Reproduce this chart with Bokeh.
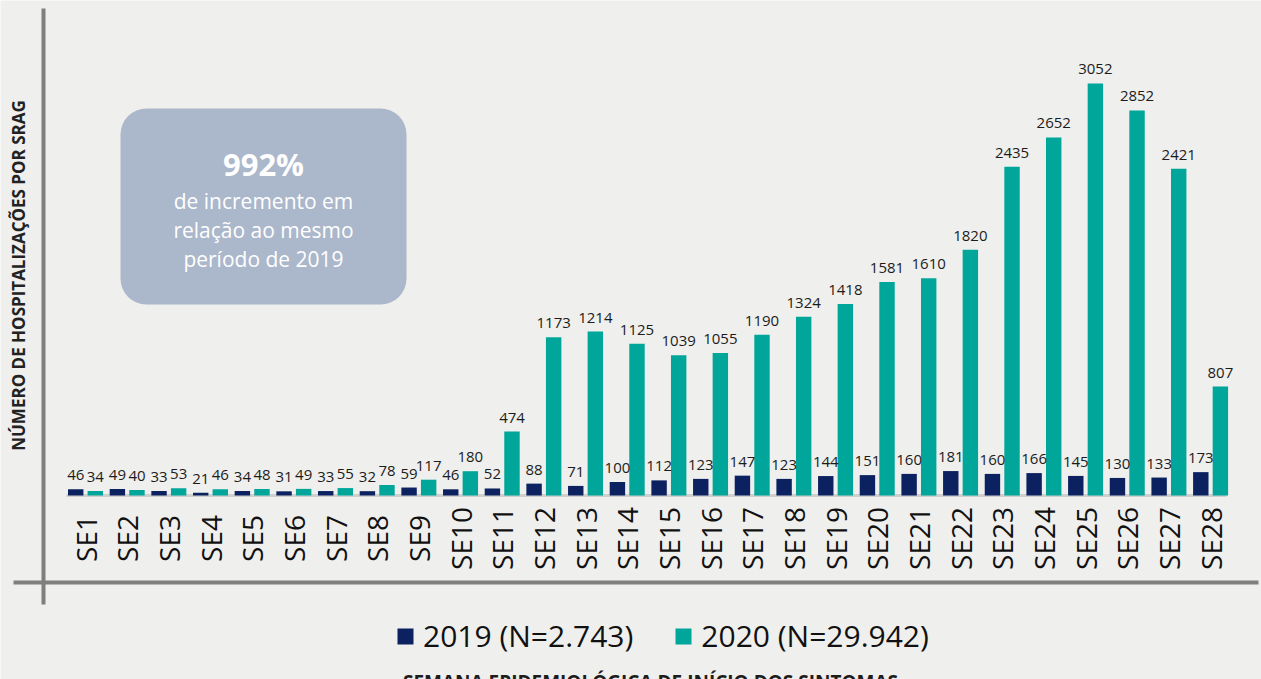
import math
from bokeh.plotting import figure
from bokeh.models import Range1d, Label, BoxAnnotation, Legend, LegendItem
from bokeh.core.properties import value
from bokeh.embed import file_html
from bokeh.resources import INLINE

# ---------------- data ----------------
weeks = ["SE%d" % i for i in range(1, 29)]
hosp_2019 = [46, 49, 33, 21, 34, 31, 33, 32, 59, 46, 52, 88, 71, 100, 112, 123, 147, 123,
             144, 151, 160, 181, 160, 166, 145, 130, 133, 173]
hosp_2020 = [34, 40, 53, 46, 48, 49, 55, 78, 117, 180, 474, 1173, 1214, 1125, 1039, 1055,
             1190, 1324, 1418, 1581, 1610, 1820, 2435, 2652, 3052, 2852, 2421, 807]
legend_labels = ["2019 (N=2.743)", "2020 (N=29.942)"]
y_title = "NÚMERO DE HOSPITALIZAÇÕES POR SRAG"
x_title = "SEMANA EPIDEMIOLÓGICA DE INÍCIO DOS SINTOMAS"
box_lines = ["992%", "de incremento em", "relação ao mesmo", "período de 2019"]

# ---------------- layout ----------------
W, H = 1261, 679
XS = 41.67            # px per category
FIRST_CX = 85         # canvas x of first category
BASE_CY = 495         # canvas y of zero line
PY = 0.135            # px per hospitalisation

x_start = 1 - FIRST_CX / XS
x_end = x_start + W / XS
y_end = BASE_CY / PY
y_start = -(H - BASE_CY) / PY


def dx(cx):
    return x_start + cx / XS


def dy(cy):
    return (BASE_CY - cy) / PY


DARK = "#0b2160"
TEAL = "#00a69a"
BG = "#efefed"
FONT = "Open Sans"

p = figure(width=W, height=H, output_backend="svg", toolbar_location=None,
           x_range=Range1d(x_start, x_end), y_range=Range1d(y_start, y_end),
           x_axis_location=None, y_axis_location=None, min_border=0,
           background_fill_color=BG, border_fill_color=BG, outline_line_color=None)
p.xgrid.visible = False
p.ygrid.visible = False

xs = list(range(1, len(weeks) + 1))
off = 0.235
bw = 0.37
x19 = [x - off for x in xs]
x20 = [x + off for x in xs]

# decorative axis lines
p.line([dx(43), dx(43)], [dy(8), dy(604)], line_color="#7f7f7f", line_width=4)
p.line([dx(13), dx(1258)], [dy(582), dy(582)], line_color="#7f7f7f", line_width=4)
# zero baseline
p.line([dx(66), dx(1226)], [0, 0], line_color="#cfcfcf", line_width=3)

r19 = p.vbar(x=x19, top=hosp_2019, bottom=0, width=bw, fill_color=DARK, line_color=None)
r20 = p.vbar(x=x20, top=hosp_2020, bottom=0, width=bw, fill_color=TEAL, line_color=None)

# value labels
lab_kw = dict(text_font=value(FONT), text_font_size="15px", text_color="#1c1c1c",
              text_align="center", text_baseline="alphabetic", y_offset=-14)
p.text(x=x19, y=hosp_2019, text=[str(v) for v in hosp_2019], **lab_kw)
p.text(x=x20, y=hosp_2020, text=[str(v) for v in hosp_2020], **lab_kw)

# category labels (rotated)
p.text(x=xs, y=[dy(538)] * len(xs), text=weeks, angle=math.pi / 2,
       text_font=value(FONT), text_font_size="28px", text_color="#111111",
       text_align="center", text_baseline="middle")

# y title
p.add_layout(Label(x=dx(18), y=dy(275), text=y_title, angle=math.pi / 2,
                   text_font=FONT, text_font_size="17px", text_font_style="bold",
                   text_color="#222222", text_align="center", text_baseline="middle"))

# highlight box
p.add_layout(BoxAnnotation(left=dx(120), right=dx(406), top=dy(108), bottom=dy(304),
                           fill_color="#abb7ca", fill_alpha=1.0, line_color=None,
                           border_radius=26, level="underlay"))
p.add_layout(Label(x=dx(263), y=dy(163), text=box_lines[0], text_font=FONT,
                   text_font_size="31px", text_font_style="bold", text_color="#ffffff",
                   text_align="center", text_baseline="middle"))
for i, t in enumerate(box_lines[1:]):
    p.add_layout(Label(x=dx(263), y=dy(200 + 29 * i), text=t, text_font=FONT,
                       text_font_size="21px", text_color="#ffffff",
                       text_align="center", text_baseline="middle"))

# x title (cut by the bottom edge as in the reference)
p.add_layout(Label(x=dx(650), y=dy(668), text=x_title, text_font=FONT,
                   text_font_size="19px", text_font_style="bold", text_color="#1c1c1c",
                   text_align="center", text_baseline="top"))

legend = Legend(items=[LegendItem(label=legend_labels[0], renderers=[r19]),
                       LegendItem(label=legend_labels[1], renderers=[r20])],
                orientation="horizontal", location=(395, 23),
                label_text_font=FONT, label_text_font_size="30px", label_text_color="#111111",
                glyph_width=20, glyph_height=20, label_standoff=8, spacing=40,
                padding=0, margin=0, label_height=34,
                background_fill_alpha=0, border_line_color=None)
p.add_layout(legend)

open("out.html", "w").write(file_html(p, INLINE))
